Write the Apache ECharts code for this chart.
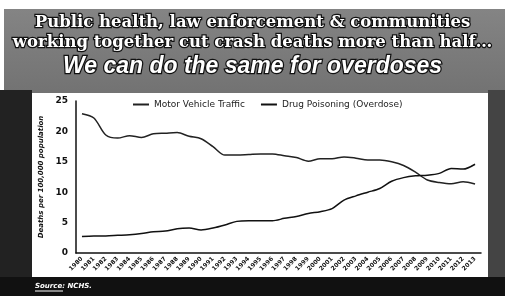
<!DOCTYPE html>
<html><head><meta charset="utf-8">
<script src="https://cdn.jsdelivr.net/npm/echarts@6/dist/echarts.min.js"></script>
<style>html,body{margin:0;padding:0;background:#fff}#c{width:505px;height:296px}</style>
</head><body><div id="c"></div>
<script>
const years = ['1980','1981','1982','1983','1984','1985','1986','1987','1988','1989','1990','1991','1992','1993','1994','1995','1996','1997','1998','1999','2000','2001','2002','2003','2004','2005','2006','2007','2008','2009','2010','2011','2012','2013'];
const motorVehicle = [22.9,22.2,19.4,18.9,19.3,19.0,19.6,19.7,19.8,19.2,18.8,17.5,16.1,16.1,16.2,16.3,16.3,16.0,15.7,15.1,15.5,15.5,15.8,15.6,15.3,15.3,15.0,14.4,13.3,12.0,11.6,11.4,11.7,11.35];
const drugPoisoning = [2.7,2.8,2.8,2.9,3.0,3.2,3.5,3.6,4.0,4.1,3.8,4.1,4.6,5.2,5.3,5.3,5.3,5.7,6.0,6.5,6.8,7.3,8.7,9.4,10.0,10.6,11.8,12.4,12.7,12.8,13.1,13.9,13.8,14.6];
const yTicks = [0,5,10,15,20,25];

const chart = echarts.init(document.getElementById('c'), null, {renderer:'canvas'});
const titleStyle = (txt, y, font) => ({
  type:'text', left:'center', top:y, z:10,
  style:{text:txt, fill:'#fff', stroke:'#111', lineWidth:2.5, font:font}
});
chart.setOption({
  animation:false,
  backgroundColor:'#fff',
  graphic:[
    {type:'rect', shape:{x:4,y:9,width:501,height:287}, z:-10,
      style:{fill:new echarts.graphic.LinearGradient(0,0,0,1,[{offset:0,color:'#848484'},{offset:0.5,color:'#666'},{offset:1,color:'#3a3a3a'}])}},
    {type:'rect', shape:{x:0,y:90,width:32,height:206}, z:-9, style:{fill:'#222'}},
    {type:'rect', shape:{x:488,y:90,width:17,height:206}, z:-9, style:{fill:'#444'}},
    {type:'rect', shape:{x:0,y:277,width:505,height:19}, z:-9, style:{fill:'#111'}},
    {type:'rect', shape:{x:32,y:93,width:456,height:184}, z:-8, style:{fill:'#fff'}},
    titleStyle('Public health, law enforcement & communities', 13, 'bold 16.5px "DejaVu Serif"'),
    titleStyle('working together cut crash deaths more than half…', 33, 'bold 16.5px "DejaVu Serif"'),
    titleStyle('We can do the same for overdoses', 54, 'italic bold 23px "Liberation Sans"'),
    {type:'text', left:35, top:283, z:10, style:{text:'Source: NCHS.', fill:'#fff', font:'italic bold 7px "DejaVu Sans"'}},
    {type:'line', shape:{x1:35,y1:291,x2:63,y2:291}, z:10, style:{stroke:'#fff', lineWidth:1}}
  ],
  legend:{
    top:95, left:128, itemGap:16, itemWidth:16, itemHeight:2, icon:'rect',
    textStyle:{fontSize:9, color:'#222', fontFamily:'DejaVu Sans'},
    data:['Motor Vehicle Traffic','Drug Poisoning (Overdose)']
  },
  grid:{left:76, right:24, top:101, bottom:43},
  xAxis:{type:'category', data:years, boundaryGap:true,
    axisLine:{lineStyle:{color:'#111', width:1.5}}, axisTick:{show:false},
    axisLabel:{rotate:45, fontSize:6, color:'#111', fontWeight:'bold', interval:0, margin:5, fontFamily:'DejaVu Sans'}},
  yAxis:{type:'value', min:0, max:25, interval:5,
    name:'Deaths per 100,000 population', nameLocation:'middle', nameGap:13,
    nameTextStyle:{fontSize:7, fontStyle:'italic', fontWeight:'bold', color:'#111', fontFamily:'DejaVu Sans'},
    axisLine:{show:true, lineStyle:{color:'#111', width:1.5}}, axisTick:{show:false}, splitLine:{show:false},
    axisLabel:{fontSize:9, color:'#111', fontWeight:'bold', margin:8, fontFamily:'DejaVu Sans'}},
  series:[
    {name:'Motor Vehicle Traffic', type:'line', data:motorVehicle, smooth:0.3, symbol:'none', lineStyle:{color:'#222', width:1.5}, itemStyle:{color:'#222'}},
    {name:'Drug Poisoning (Overdose)', type:'line', data:drugPoisoning, smooth:0.3, symbol:'none', lineStyle:{color:'#111', width:1.5}, itemStyle:{color:'#111'}}
  ]
});
</script></body></html>
